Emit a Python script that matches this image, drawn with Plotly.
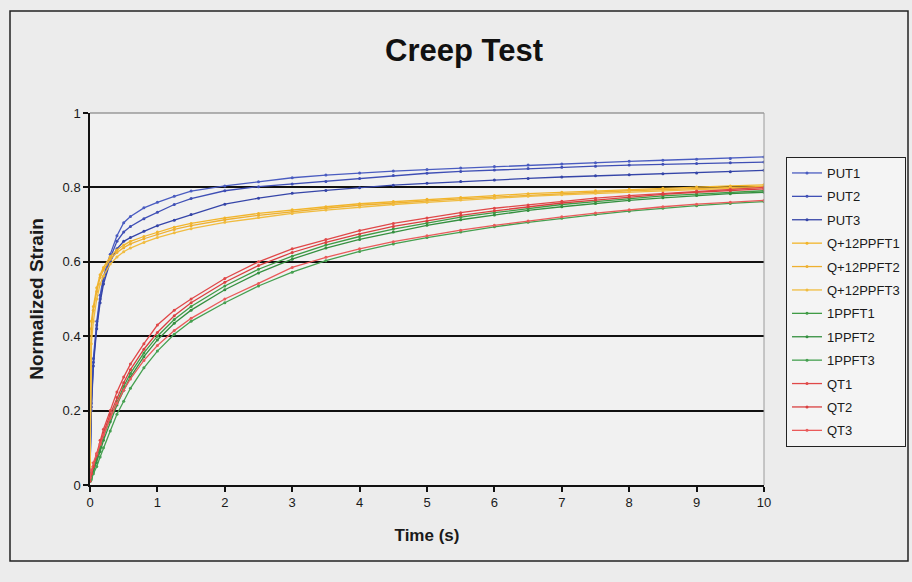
import plotly.graph_objects as go

# Time samples (s)
time_s = [0, 0.02, 0.05, 0.1, 0.15, 0.2, 0.3, 0.4, 0.5, 0.6, 0.8, 1.0, 1.25, 1.5, 2, 2.5,
          3, 3.5, 4, 4.5, 5, 5.5, 6, 6.5, 7, 7.5, 8, 8.5, 9, 9.5, 10]

put1 = [0.04, 0.22, 0.34, 0.44, 0.51, 0.56, 0.62, 0.67, 0.705, 0.722, 0.745, 0.760, 0.776, 0.790, 0.804, 0.815,
        0.826, 0.833, 0.839, 0.844, 0.848, 0.852, 0.856, 0.860, 0.863, 0.866, 0.870, 0.873, 0.876, 0.878, 0.882]
put2 = [0.04, 0.21, 0.33, 0.43, 0.50, 0.55, 0.61, 0.655, 0.680, 0.695, 0.716, 0.733, 0.754, 0.770, 0.791, 0.802,
        0.809, 0.816, 0.824, 0.832, 0.838, 0.843, 0.847, 0.851, 0.854, 0.857, 0.860, 0.862, 0.864, 0.866, 0.868]
put3 = [0.03, 0.20, 0.32, 0.42, 0.49, 0.54, 0.60, 0.635, 0.655, 0.665, 0.682, 0.697, 0.712, 0.727, 0.755, 0.771,
        0.784, 0.792, 0.799, 0.806, 0.811, 0.816, 0.820, 0.824, 0.828, 0.831, 0.834, 0.837, 0.839, 0.842, 0.846]

q12_1 = [0.06, 0.44, 0.48, 0.53, 0.565, 0.585, 0.614, 0.632, 0.645, 0.655, 0.668, 0.680, 0.693, 0.703, 0.718, 0.730,
         0.740, 0.748, 0.756, 0.762, 0.768, 0.773, 0.778, 0.783, 0.787, 0.791, 0.795, 0.798, 0.801, 0.804, 0.807]
q12_2 = [0.05, 0.42, 0.47, 0.52, 0.558, 0.578, 0.607, 0.625, 0.638, 0.648, 0.662, 0.674, 0.687, 0.697, 0.713, 0.725,
         0.735, 0.744, 0.752, 0.758, 0.764, 0.769, 0.774, 0.779, 0.783, 0.787, 0.791, 0.794, 0.797, 0.800, 0.803]
q12_3 = [0.04, 0.38, 0.44, 0.50, 0.540, 0.562, 0.594, 0.613, 0.627, 0.637, 0.652, 0.665, 0.678, 0.689, 0.706, 0.719,
         0.730, 0.739, 0.747, 0.754, 0.760, 0.766, 0.771, 0.776, 0.780, 0.784, 0.788, 0.791, 0.794, 0.797, 0.800]

ppft1 = [0.01, 0.02, 0.04, 0.07, 0.10, 0.13, 0.18, 0.225, 0.265, 0.30, 0.355, 0.40, 0.445, 0.48, 0.535, 0.58,
         0.615, 0.645, 0.668, 0.688, 0.705, 0.720, 0.732, 0.744, 0.754, 0.762, 0.770, 0.777, 0.782, 0.787, 0.791]
ppft2 = [0.01, 0.02, 0.035, 0.06, 0.09, 0.12, 0.17, 0.215, 0.255, 0.29, 0.345, 0.39, 0.435, 0.47, 0.525, 0.57,
         0.607, 0.637, 0.660, 0.680, 0.698, 0.713, 0.726, 0.738, 0.748, 0.757, 0.765, 0.772, 0.778, 0.783, 0.787]
ppft3 = [0.01, 0.015, 0.03, 0.05, 0.075, 0.10, 0.145, 0.19, 0.225, 0.26, 0.315, 0.36, 0.405, 0.44, 0.49, 0.535,
         0.572, 0.603, 0.628, 0.648, 0.665, 0.680, 0.694, 0.706, 0.717, 0.727, 0.736, 0.744, 0.751, 0.757, 0.762]

qt1 = [0.01, 0.03, 0.05, 0.085, 0.12, 0.15, 0.20, 0.25, 0.29, 0.325, 0.38, 0.43, 0.47, 0.50, 0.555, 0.60,
       0.635, 0.660, 0.684, 0.703, 0.718, 0.732, 0.744, 0.753, 0.763, 0.771, 0.778, 0.784, 0.790, 0.795, 0.800]
qt2 = [0.02, 0.03, 0.05, 0.08, 0.11, 0.14, 0.19, 0.235, 0.275, 0.31, 0.365, 0.41, 0.455, 0.49, 0.545, 0.59,
       0.625, 0.652, 0.675, 0.695, 0.710, 0.725, 0.737, 0.748, 0.758, 0.766, 0.774, 0.781, 0.787, 0.792, 0.796]
qt3 = [0.02, 0.04, 0.06, 0.085, 0.11, 0.135, 0.18, 0.22, 0.255, 0.285, 0.335, 0.375, 0.415, 0.448, 0.50, 0.542,
       0.585, 0.612, 0.635, 0.654, 0.670, 0.685, 0.698, 0.710, 0.721, 0.731, 0.740, 0.748, 0.755, 0.760, 0.765]

series_names = ["PUT1", "PUT2", "PUT3", "Q+12PPFT1", "Q+12PPFT2", "Q+12PPFT3",
                "1PPFT1", "1PPFT2", "1PPFT3", "QT1", "QT2", "QT3"]
series_values = [put1, put2, put3, q12_1, q12_2, q12_3, ppft1, ppft2, ppft3, qt1, qt2, qt3]
series_colors = ["#4a5cc0", "#3f4fb5", "#3545a8", "#f2b52a", "#eeb030", "#f0bc40",
                 "#3f9b45", "#359040", "#45a050", "#e04848", "#d94040", "#ea5a5a"]

y_ticks = [0, 0.2, 0.4, 0.6, 0.8, 1]
y_tick_labels = ["0", "0.2", "0.4", "0.6", "0.8", "1"]
x_ticks = list(range(0, 11))

fig = go.Figure()
for i, (name, vals, col) in enumerate(zip(series_names, series_values, series_colors)):
    fig.add_trace(go.Scatter(
        x=time_s, y=vals, name=name, mode="lines+markers",
        line=dict(color=col, width=1.3),
        marker=dict(color=col, size=3, symbol="circle"),
        legendgroup=f"g{i}",
    ))

font_family = "Liberation Sans, Arial, sans-serif"

fig.update_layout(
    width=912, height=582,
    margin=dict(l=90, r=148, t=113, b=97, autoexpand=False),
    paper_bgcolor="#ececec",
    plot_bgcolor="#f1f1f1",
    font=dict(family=font_family, size=13, color="#1a1a1a"),
    title=dict(text="<b>Creep Test</b>", x=464 / 912, xanchor="center", y=1 - 50 / 582, yanchor="middle",
               font=dict(size=31, color="#111111")),
    showlegend=True,
    legend=dict(x=(786 - 90) / 674, y=(485 - 157) / 372, xanchor="left", yanchor="top",
                bgcolor="#f4f4f4", bordercolor="#222222", borderwidth=1,
                font=dict(size=13, color="#1a1a1a"), tracegroupgap=3.5,
                itemwidth=30),
    xaxis=dict(range=[0, 10], tickvals=x_ticks, ticks="outside", ticklen=5, tickwidth=1.5,
               tickcolor="#111111", showline=True, linecolor="#111111", linewidth=1.5,
               showgrid=False, zeroline=False,
               title=dict(text="<b>Time (s)</b>", font=dict(size=17), standoff=20)),
    yaxis=dict(range=[0, 1], tickvals=y_ticks, ticktext=y_tick_labels, ticks="outside", ticklen=5,
               tickwidth=1.5, tickcolor="#111111", showline=True, linecolor="#111111", linewidth=1.5,
               showgrid=True, gridcolor="#111111", gridwidth=1.5, zeroline=False,
               title=dict(text="<b>Normalized Strain</b>", font=dict(size=19), standoff=14)),
)

# plot area top / right border (light gray)
fig.add_shape(type="line", xref="paper", yref="paper", x0=0, x1=1, y0=1, y1=1,
              line=dict(color="#9a9a9a", width=1.6), layer="above")
fig.add_shape(type="line", xref="paper", yref="paper", x0=1, x1=1, y0=0, y1=1,
              line=dict(color="#9a9a9a", width=1), layer="above")
# outer chart frame
fig.add_shape(type="rect", xref="paper", yref="paper",
              x0=(10 - 90) / 674, x1=(908 - 90) / 674, y0=(485 - 561) / 372, y1=(485 - 11) / 372,
              line=dict(color="#222222", width=1.5), fillcolor="rgba(0,0,0,0)", layer="above")

fig.write_html("out.html")
